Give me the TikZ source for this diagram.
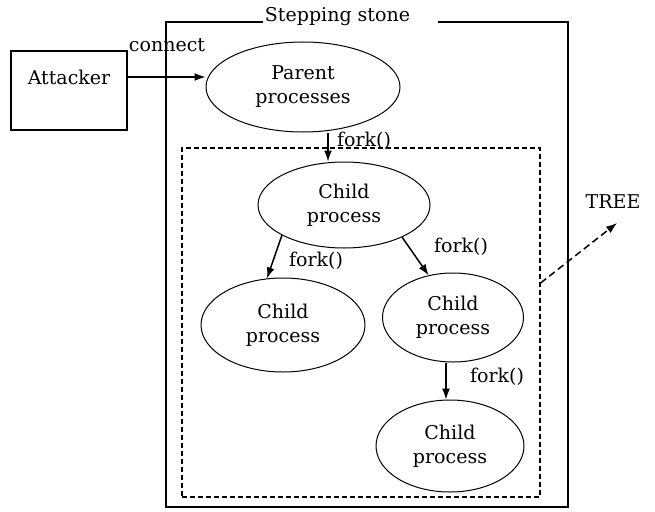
\documentclass[tikz,border=0pt]{standalone}
\usepackage{fontspec}
\setmainfont{DejaVu Serif}
\usetikzlibrary{arrows.meta,shapes.geometric}

\begin{document}
\begin{tikzpicture}[x=1pt,y=-1pt,
  every node/.style={font=\fontsize{19}{24}\selectfont},
  proc/.style={draw, ellipse, inner sep=0pt, line width=1pt, align=center},
  boxnode/.style={draw, rectangle, inner sep=0pt, line width=1.1pt},
  grpbox/.style={draw, rectangle, inner sep=0pt, line width=1.2pt, dash pattern=on 5pt off 3pt},
  framepath/.style={line width=1.6pt},
  arr/.style={-{Latex[length=11pt,width=8pt]}, line width=1.5pt},
  dasharr/.style={arr, dash pattern=on 7pt off 4pt},
  lbl/.style={inner sep=0pt}
]
\useasboundingbox (0,0) rectangle (655,511);

% stepping stone frame, open round its title
\draw[framepath] (263,22) -- (166,22) -- (166,507) -- (568,507) -- (568,22) -- (438,22);
\node[lbl, anchor=base] (title) at (337.5,22) {Stepping stone};

% dashed group of forked processes
\node[grpbox, minimum width=358pt, minimum height=349pt] (grp) at (361,322.5) {};

% attacker
\node[boxnode, minimum width=116pt, minimum height=79pt] (att) at (69,90.5) {};
\node[lbl] (attxt) at (69,77) {Attacker};

% processes
\node[proc, minimum width=194pt, minimum height=90pt] (parent) at (303,87) {Parent\\processes};
\node[proc, minimum width=172pt, minimum height=86pt] (c1) at (344,205) {Child\\process};
\node[proc, minimum width=164pt, minimum height=94pt] (c2) at (283,325) {Child\\process};
\node[proc, minimum width=141pt, minimum height=89pt] (c3) at (453,317.5) {Child\\process};
\node[proc, minimum width=148pt, minimum height=92pt] (c4) at (450,446) {Child\\process};

% connect
\node[lbl, anchor=base] (conn) at (167,52) {connect};
\draw[arr] (attxt -| att.east) -- (attxt -| parent.west);

% forks
\coordinate (f0) at (328,0);
\draw[arr] (f0 |- parent.south) -- (f0 |- c1.north);
\node[lbl] (k0) at (364,141) {fork()};

\draw[arr] (c1.-154) -- (c2.109);
\node[lbl] (k1) at (316,261) {fork()};

\draw[arr] (c1.-29) -- (c3.120);
\node[lbl] (k2) at (461,247) {fork()};

\coordinate (f3) at (446,0);
\draw[arr] (f3 |- c3.south) -- (f3 |- c4.north);
\node[lbl] (k3) at (497,377) {fork()};

% tree
\node[lbl] (tree) at (613,202) {TREE};
\coordinate (tail) at (0,283);
\coordinate (tip) at (617,223);
\draw[dasharr] (grp.east |- tail) -- (tip);
\end{tikzpicture}
\end{document}
